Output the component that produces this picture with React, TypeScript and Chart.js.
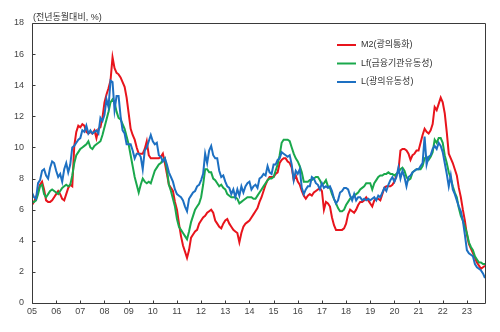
import React, { useEffect, useRef } from "react";
import { Chart, registerables } from "chart.js";

Chart.register(...registerables);

// ---- data (monthly, year-on-year %, Jan 2005 .. Oct 2023) ----
const startYear = 2005;
const endX = 2023.75;
const xTickLabels = ["05","06","07","08","09","10","11","12","13","14","15","16","17","18","19","20","21","22","23"];
const yTicks = [0, 2, 4, 6, 8, 10, 12, 14, 16, 18];
const axisTitle = "(전년동월대비, %)";
const seriesLabels = ["M2(광의통화)", "Lf(금융기관유동성)", "L(광의유동성)"];
const seriesColors = ["#e8141c", "#1aa84c", "#1d70c2"];

const m2 = [
  6.3, 6.5, 6.8, 7.2, 7.6, 7.8, 7.3, 6.6, 6.5, 6.5, 6.6, 6.8,
  7.0, 7.2, 7.0, 6.7, 6.6, 7.0, 7.4, 7.6, 7.5, 10.1, 11.0, 11.4,
  11.3, 11.5, 11.4, 11.0, 10.9, 11.0, 10.9, 11.1, 10.6, 11.2, 11.3, 11.9,
  12.9, 13.4, 13.8, 14.3, 15.8, 15.1, 14.8, 14.7, 14.5, 14.2, 13.9, 13.2,
  12.2, 11.2, 10.8, 10.5, 10.0, 9.6, 9.6, 9.6, 9.9, 10.4, 9.5, 9.3,
  9.3, 9.3, 9.3, 9.3, 9.4, 9.6, 9.0, 8.3, 7.6, 7.4, 7.2, 6.5,
  6.0, 5.1, 4.3, 3.7, 3.3, 2.9, 3.4, 4.2, 4.4, 4.6, 4.7, 5.1,
  5.3, 5.5, 5.6, 5.8, 5.9, 6.0, 5.8, 5.3, 5.1, 4.9, 4.8, 5.1,
  5.3, 5.4, 5.1, 4.9, 4.7, 4.6, 4.5, 3.9, 4.5, 4.9, 5.1, 5.2,
  5.3, 5.5, 5.7, 5.9, 6.1, 6.5, 6.8, 7.2, 7.6, 7.9, 8.1, 8.1,
  8.1, 8.3, 8.4, 9.0, 9.2, 9.3, 9.3, 9.1, 9.0, 8.7, 7.9, 8.2,
  7.8, 7.6, 7.2, 6.9, 6.7, 6.9, 7.0, 6.9, 7.1, 7.2, 7.3, 7.4,
  7.2, 6.0, 6.5, 6.4, 6.2, 5.5, 5.0, 4.7, 4.7, 4.7, 4.7, 4.8,
  5.1, 5.7, 6.0, 5.9, 5.8, 6.0, 6.3, 6.5, 6.5, 6.6, 6.8, 6.6,
  6.4, 6.2, 6.6, 6.7, 6.7, 6.6, 7.0, 7.4, 7.5, 7.5, 7.5, 7.6,
  7.8, 8.2, 8.5, 9.8, 9.9, 9.9, 9.8, 9.6, 9.2, 9.5, 9.6, 9.8,
  9.8, 10.3, 10.8, 11.2, 11.0, 10.9, 11.1, 11.5, 12.6, 12.4, 12.8, 13.2,
  12.9, 12.2, 11.0, 9.6, 9.3, 9.0, 8.6, 8.2, 7.4, 6.8, 6.0, 5.3,
  4.4, 3.8, 3.5, 3.2, 2.9, 2.6, 2.4, 2.2, 2.3, 2.4,
];

const lf = [
  6.5, 6.5, 6.6, 7.0, 7.5, 7.6, 7.0, 6.8, 7.0, 7.2, 7.3, 7.2,
  7.1, 7.0, 7.2, 7.4, 7.5, 7.6, 7.5, 7.6, 8.2, 9.0, 9.5, 9.7,
  9.9, 10.0, 10.1, 10.2, 10.4, 10.0, 9.9, 10.1, 10.2, 10.3, 10.4, 10.8,
  11.3, 11.8, 12.3, 12.9, 13.1, 12.9, 12.3, 11.9, 11.8, 11.5, 11.2, 10.7,
  10.2, 9.5, 8.8, 8.1, 7.6, 7.1, 7.6, 8.0, 7.8, 7.7, 7.8, 7.7,
  8.1, 8.5, 8.7, 8.9, 9.0, 9.2, 9.3, 8.6, 7.6, 7.2, 6.7, 6.2,
  5.4, 4.9, 4.7, 4.5, 4.3, 4.1, 4.6, 5.2, 5.6, 6.0, 6.2, 6.4,
  6.8, 7.6, 8.6, 8.6, 8.4, 8.4, 8.0, 7.9, 7.7, 7.5, 7.6, 7.4,
  7.3, 7.0, 6.9, 6.8, 6.8, 6.8, 6.7, 6.4, 6.5, 6.6, 6.7, 6.8,
  6.8, 6.8, 6.7, 6.7, 6.9, 7.1, 7.3, 7.5, 7.7, 7.9, 8.0, 8.0,
  8.1, 8.5, 8.9, 9.5, 10.3, 10.5, 10.5, 10.5, 10.4, 10.0, 9.6, 9.3,
  9.1, 8.8, 8.4, 7.8, 7.8, 7.8, 7.9, 7.9, 8.0, 8.1, 8.1, 7.9,
  7.6, 7.7, 7.9, 7.5, 7.4, 7.0, 6.7, 6.4, 6.1, 5.9, 5.9, 6.0,
  6.3, 6.5, 6.7, 6.8, 6.9, 7.0, 7.1, 7.3, 7.4, 7.5, 7.7, 7.7,
  7.7, 7.3, 7.7, 7.9, 8.1, 8.2, 8.2, 8.3, 8.3, 8.4, 8.3, 8.3,
  8.2, 8.3, 8.4, 8.6, 8.7, 8.5, 8.1, 7.9, 8.0, 8.4, 8.5, 8.6,
  8.6, 8.6, 8.8, 9.3, 9.4, 9.2, 9.4, 9.7, 10.5, 10.3, 10.6, 10.6,
  10.3, 9.5, 9.0, 8.4, 8.0, 7.5, 7.1, 6.8, 6.1, 5.6, 5.3, 4.9,
  4.5, 3.9, 3.6, 3.4, 3.0, 2.8, 2.6, 2.6, 2.5, 2.5,
];

const l = [
  7.1, 6.8, 6.7, 7.7, 7.9, 8.5, 8.6, 8.2, 8.0, 8.7, 9.1, 9.0,
  8.5, 8.1, 8.3, 7.8, 8.6, 9.0, 8.4, 8.9, 10.0, 10.1, 10.3, 10.5,
  10.6, 11.1, 11.0, 11.4, 10.9, 11.1, 10.9, 11.0, 11.1, 10.9, 11.9, 11.7,
  12.1, 13.1, 12.6, 14.3, 14.2, 12.4, 13.3, 13.3, 12.0, 11.1, 10.9, 10.2,
  10.2, 10.2, 9.8, 9.3, 9.6, 9.6, 9.4, 8.6, 9.8, 10.0, 10.4, 10.8,
  10.4, 10.2, 10.3, 9.5, 9.4, 9.1, 9.3, 8.9, 8.4, 8.1, 7.8, 7.3,
  7.0, 6.9, 6.8, 6.6, 6.2, 5.9, 6.7, 6.9, 7.1, 7.2, 7.5, 7.6,
  7.9, 8.3, 9.6, 9.0, 9.8, 10.1, 9.5, 9.3, 9.3, 8.5, 8.1, 8.2,
  7.8, 7.5, 7.4, 7.0, 7.3, 6.8, 7.3, 6.9, 7.5, 7.1, 7.5, 7.7,
  7.8, 7.3, 7.5, 7.6, 7.4, 8.0, 8.1, 8.3, 8.2, 8.8, 8.4, 8.3,
  8.9, 8.9, 9.2, 9.3, 9.7, 9.6, 9.5, 9.4, 9.5, 8.9, 7.9, 8.5,
  8.3, 8.6, 7.4, 7.0, 7.3, 7.5, 7.5, 8.1, 8.0, 7.7, 7.6, 7.3,
  7.7, 7.4, 7.5, 7.4, 7.5, 7.2, 6.7, 6.4, 6.6, 7.1, 7.2, 7.4,
  7.4, 7.3, 6.9, 6.6, 7.0, 6.6, 6.8, 6.8, 6.6, 6.7, 6.6, 6.7,
  6.6, 6.7, 6.8, 6.6, 6.9, 6.8, 7.1, 7.4, 7.2, 7.6, 7.9, 8.1,
  7.8, 8.1, 8.7, 8.0, 8.5, 8.1, 7.5, 8.1, 8.2, 8.4, 8.5, 8.6,
  8.6, 8.8, 9.0, 10.7, 8.9, 9.4, 9.5, 9.9, 10.1, 9.9, 10.3, 10.1,
  9.7, 9.0, 8.3, 7.5, 8.2, 7.3, 7.0, 6.6, 6.2, 5.9, 5.3, 4.4,
  3.4, 3.2, 3.1, 3.0, 2.5, 2.3, 2.2, 2.1, 1.9, 1.6,
];

const seriesValues = [m2, lf, l];

const FONT = "'Liberation Sans', 'Noto Sans CJK KR', sans-serif";

const toPoints = (vals: number[]) =>
  vals.map((v, i) => ({ x: startYear + i / 12, y: v }));

const framePlugin = {
  id: "frameAndExtras",
  afterDraw(chart: any) {
    const { ctx, chartArea: a, scales } = chart;
    const xs = scales.x;
    const ys = scales.y;
    ctx.save();
    ctx.strokeStyle = "#3a3a3a";
    ctx.lineWidth = 1;
    const L = Math.round(a.left) + 0.5;
    const R = Math.round(a.right) + 0.5;
    const T = Math.round(a.top) + 0.5;
    const B = Math.round(a.bottom) + 0.5;
    ctx.beginPath();
    ctx.rect(L, T, R - L, B - T);
    ctx.stroke();
    // inner tick marks
    ctx.beginPath();
    xs.ticks.forEach((t: any) => {
      const px = Math.round(xs.getPixelForValue(t.value)) + 0.5;
      ctx.moveTo(px, B);
      ctx.lineTo(px, B - 3);
    });
    ys.ticks.forEach((t: any) => {
      const py = Math.round(ys.getPixelForValue(t.value)) + 0.5;
      ctx.moveTo(L, py);
      ctx.lineTo(L + 3, py);
    });
    ctx.stroke();

    // axis title
    ctx.fillStyle = "#333";
    ctx.font = `9px ${FONT}`;
    ctx.textBaseline = "middle";
    ctx.textAlign = "left";
    ctx.fillText(axisTitle, a.left + 1, a.top - 5);

    // legend
    seriesLabels.forEach((lab, i) => {
      const y = a.top + 22 + i * 18.5;
      const x0 = a.left + 305;
      ctx.strokeStyle = seriesColors[i];
      ctx.lineWidth = 2;
      ctx.beginPath();
      ctx.moveTo(x0, y);
      ctx.lineTo(x0 + 19, y);
      ctx.stroke();
      ctx.fillStyle = "#333";
      ctx.fillText(lab, x0 + 24, y);
    });
    ctx.restore();
  },
};

export default function App() {
  const canvasRef = useRef<HTMLCanvasElement | null>(null);

  useEffect(() => {
    if (!canvasRef.current) return;
    const chart = new Chart(canvasRef.current, {
      type: "line",
      data: {
        datasets: seriesValues.map((vals, i) => ({
          label: seriesLabels[i],
          data: toPoints(vals),
          borderColor: seriesColors[i],
          backgroundColor: seriesColors[i],
          borderWidth: 2,
          pointRadius: 0,
          tension: 0,
          order: seriesValues.length - 1 - i,
        })),
      },
      options: {
        animation: false,
        responsive: false,
        events: [],
        layout: { padding: { left: 0, right: 15, top: 23, bottom: 0 } },
        plugins: {
          legend: { display: false },
          tooltip: { enabled: false },
          title: { display: false },
        },
        scales: {
          x: {
            type: "linear",
            min: startYear,
            max: endX,
            grid: { display: false, drawTicks: false },
            border: { display: false },
            afterFit: (s: any) => {
              s.height = 29;
            },
            afterBuildTicks: (s: any) => {
              s.ticks = xTickLabels.map((_, i) => ({ value: startYear + i }));
            },
            ticks: {
              autoSkip: false,
              maxRotation: 0,
              padding: 3,
              color: "#444",
              font: { size: 9, family: FONT },
              callback: (v: any) => xTickLabels[Math.round(Number(v)) - startYear],
            },
          },
          y: {
            min: 0,
            max: 18,
            grid: { display: false, drawTicks: false },
            border: { display: false },
            afterFit: (s: any) => {
              s.width = 32;
            },
            afterBuildTicks: (s: any) => {
              s.ticks = yTicks.map((v) => ({ value: v }));
            },
            ticks: {
              padding: 8,
              color: "#444",
              font: { size: 9, family: FONT },
              callback: (v: any) => String(v),
            },
          },
        },
      },
      plugins: [framePlugin],
    });
    return () => chart.destroy();
  }, []);

  return (
    <div style={{ position: "absolute", left: 0, top: 0, width: 500, height: 332, background: "#fff" }}>
      <canvas ref={canvasRef} width={500} height={332} style={{ display: "block" }} />
    </div>
  );
}
